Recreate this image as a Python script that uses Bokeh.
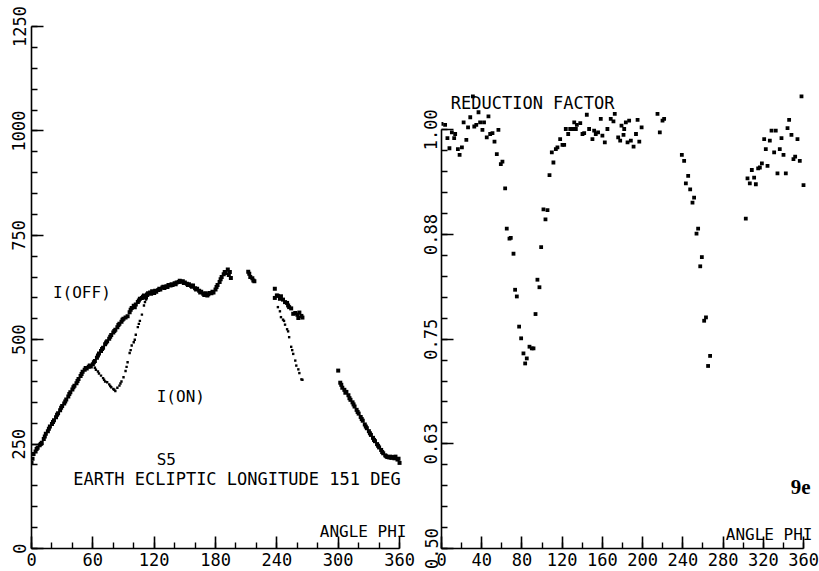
from bokeh.plotting import figure
from bokeh.layouts import row
from bokeh.models import FixedTicker, Label, PrintfTickFormatter, Range1d
from bokeh.embed import file_html
from bokeh.resources import INLINE

# ---------------- data ----------------
# Left panel: intensity I(OFF) vs angle phi
off_phi = [0, 1, 2, 4, 5, 6, 8, 9, 10, 12, 13, 14, 16, 17, 18, 20, 21, 22, 24, 25, 26, 28, 29, 30,
           32, 33, 34, 36, 37, 38, 40, 41, 42, 44, 45, 46, 48, 49, 50, 52, 53, 54, 56, 57, 58,
           60, 61, 62, 64, 65, 66, 68, 69, 70, 72, 73, 74, 76, 77, 78, 80, 81, 82, 84, 85, 86,
           88, 89, 90, 92, 94, 96, 97, 98, 100, 101, 102, 104, 105, 106, 108, 109, 110, 112, 113,
           114, 116, 117, 118, 120, 121, 122, 124, 125, 126, 128, 129, 130, 132, 133, 134, 136,
           137, 138, 140, 141, 142, 144, 145, 146, 148, 149, 150, 152, 153, 154, 156, 157, 158,
           160, 161, 162, 164, 165, 166, 168, 169, 170, 172, 173, 174, 176, 177, 178, 180, 181,
           182, 184, 185, 186, 188, 189, 190, 192, 193, 194, 195,
           212, 213, 214, 216, 217, 218,
           238, 238, 240, 241, 243, 244, 246, 248, 250, 251, 252, 254, 256, 258, 260, 261, 262,
           264, 265,
           300, 302, 303, 304, 306, 307, 308, 310, 311, 312, 314, 315, 316, 318, 319, 320, 322,
           323, 324, 326, 327, 328, 330, 331, 332, 334, 335, 336, 338, 339, 340, 342, 343, 344,
           346, 347, 348, 350, 351, 352, 354, 355, 356, 358, 359, 360]
off_val = [205, 215, 226, 232, 238, 241, 247, 250, 253, 262, 268, 275, 281, 287, 292, 298, 303, 307,
           314, 320, 324, 331, 337, 341, 347, 352, 357, 364, 370, 374, 381, 386, 390, 396, 401, 406,
           413, 418, 423, 428, 432, 431, 435, 438, 436, 441, 446, 449, 457, 462, 467, 473, 478, 481,
           489, 493, 496, 502, 507, 511, 517, 521, 524, 530, 535, 538, 543, 548, 550, 553, 556, 566,
           572, 576, 581, 578, 584, 590, 594, 598, 600, 603, 606, 601, 608, 611, 613, 610, 616, 612,
           617, 615, 619, 622, 620, 625, 627, 624, 628, 626, 631, 630, 633, 631, 635, 633, 637, 638,
           641, 639, 640, 636, 637, 634, 631, 633, 629, 627, 630, 623, 620, 622, 617, 613, 615, 610,
           607, 611, 606, 609, 612, 611, 615, 613, 620, 626, 631, 638, 645, 650, 657, 662, 660, 668,
           655, 662, 648,
           663, 658, 650, 647, 642, 640,
           622, 600, 606, 605, 598, 604, 596, 590, 588, 582, 578, 575, 562, 564, 560, 552, 565, 557,
           553,
           426, 397, 392, 385, 380, 373, 375, 367, 360, 356, 350, 345, 340, 332, 327, 323, 315, 310,
           306, 297, 292, 288, 281, 276, 272, 265, 260, 257, 250, 246, 242, 236, 231, 228, 223, 221,
           219, 218, 220, 217, 219, 216, 220, 213, 215, 205]

# Left panel: intensity I(ON) where it departs from I(OFF)
on_phi = [60, 62, 63, 65, 66, 68, 70, 71, 72, 74, 76, 77, 78, 80, 81, 82, 84, 86, 87, 88, 90, 92,
          93, 94, 96, 97, 98, 100, 101, 102, 104, 105, 106, 108, 110, 111, 112, 114,
          241, 243, 244, 246, 247, 248, 250, 251, 252, 254, 255, 256, 258, 259, 261, 262, 264, 265]
on_val = [440, 433, 428, 424, 419, 414, 408, 404, 400, 398, 393, 389, 386, 382, 380, 377, 385, 390,
          395, 400, 410, 425, 435, 446, 468, 475, 486, 494, 500, 512, 530, 538, 545, 560, 582, 590,
          596, 605,
          578, 568, 554, 548, 545, 536, 525, 520, 506, 483, 475, 466, 450, 438, 429, 420, 405, 404]

# Right panel: reduction factor vs angle phi
rf_phi = [0, 3.6, 5.9, 7.9, 10.3, 12.6, 13.6, 16.3, 18, 20.3, 22, 24.7, 26.4, 28.6, 31.2, 32.6,
          34.6, 36.8, 38.4, 40.7, 42.3, 45, 46.7, 48.4, 50.7, 52.7, 55, 56.6, 59, 60.6, 63.3,
          64.9, 67.6, 68.9, 71.6, 73.2, 74.9, 77.2, 79.2, 81.5, 83.2, 84.8, 87.5, 89.8, 91.5,
          93.5, 95.4, 97.4, 99.1, 101.4, 103.4, 105.4, 107.4, 109.7, 111.3, 113.7, 115.3, 118,
          120.3, 122, 123.6, 126, 128, 130.3, 132, 133.6, 134.6, 138, 140.2, 141.9, 144.5, 146.8,
          150.1, 151.8, 153.4, 155.7, 158.4, 160, 162.4, 165, 168.3, 171, 172.3, 175.7, 177.7,
          179, 181, 181.7, 183.3, 185, 186.6, 188.3, 191, 193.4, 195, 196.7, 199,
          214.8, 217.1, 219.8, 221.4,
          239, 241.3, 243, 245.3, 247.3, 249.6, 251.2, 253.6, 255.2, 257.3, 258.9, 261.2, 263,
          265.1, 267.1,
          302.6, 304.3, 306.6, 308.6, 310.9, 312.6, 314.9, 316.6, 318.6, 320.9, 322.5, 324.2,
          326.5, 328.2, 330.8, 332.4, 334.1, 336.4, 338.1, 340.1, 342.4, 344.1, 345.7, 348, 350,
          351.7, 354, 356.3, 358, 360]
rf_val = [1.007, 1.006, 0.990, 0.978, 0.997, 0.990, 0.995, 0.977, 0.970, 0.979, 1.009, 0.988,
          1.003, 1.015, 1.040, 1.004, 1.006, 1.021, 1.009, 1.000, 1.009, 0.991, 1.016, 0.995,
          0.996, 0.986, 0.971, 1.000, 0.959, 0.962, 0.930, 0.882, 0.870, 0.871, 0.852, 0.809,
          0.801, 0.765, 0.751, 0.733, 0.721, 0.727, 0.741, 0.739, 0.739, 0.780, 0.821, 0.812,
          0.860, 0.905, 0.893, 0.904, 0.946, 0.973, 0.961, 0.977, 0.979, 0.989,
          0.982, 0.982, 1.001, 0.995, 1.001, 1.001, 1.009, 1.001, 1.006, 1.008, 0.995, 0.996,
          1.018, 1.001, 0.989, 0.999, 0.995, 0.997, 1.013, 0.993, 0.985, 1.001, 1.013, 1.010,
          1.019, 0.991, 0.987, 1.005, 0.994, 1.001, 1.009, 0.985, 1.011, 0.987, 0.980, 0.995,
          1.012, 0.986, 1.003,
          1.019, 0.997, 1.011, 1.013,
          0.970, 0.963, 0.936, 0.945, 0.929, 0.913, 0.919, 0.876, 0.882, 0.837, 0.848, 0.772,
          0.776, 0.718, 0.730,
          0.894, 0.942, 0.936, 0.952, 0.943, 0.935, 0.954, 0.955, 0.960, 0.989, 0.977, 0.957,
          0.987, 0.999, 0.973, 0.999, 0.948, 0.977, 0.990, 0.970, 0.948, 1.002, 1.012, 0.994,
          0.965, 0.968, 0.989, 0.963, 1.040, 0.934]

# Tick values
left_x_major = [0, 60, 120, 180, 240, 300, 360]
left_x_minor = list(range(0, 361, 20))
left_y_major = [0, 250, 500, 750, 1000, 1250]
left_y_minor = list(range(0, 1251, 50))
right_x_major = [0, 40, 80, 120, 160, 200, 240, 280, 320, 360]
right_x_minor = list(range(0, 361, 20))
right_y_major = [0.5, 0.625, 0.75, 0.875, 1.0]
right_y_minor = [0.5 + 0.025 * i for i in range(21)]

MONO = "DejaVu Sans Mono"
HEIGHT = 570


def style_axis(ax, vertical=False, standoff=4):
    ax.axis_line_color = "black"
    ax.axis_line_width = 1.6
    ax.major_tick_line_color = "black"
    ax.minor_tick_line_color = "black"
    ax.major_tick_line_width = 1.6
    ax.minor_tick_line_width = 1.4
    ax.major_tick_in = 12
    ax.major_tick_out = 0
    ax.minor_tick_in = 6
    ax.minor_tick_out = 0
    ax.major_label_text_font = MONO
    ax.major_label_text_font_size = "17px"
    ax.major_label_text_color = "black"
    ax.major_label_standoff = standoff
    if vertical:
        ax.major_label_orientation = "vertical"


def base_fig(width, x_range, y_range, left, right):
    p = figure(width=width, height=HEIGHT, x_range=x_range, y_range=y_range,
               output_backend="svg", toolbar_location=None,
               min_border_left=left, min_border_right=right,
               min_border_top=26, min_border_bottom=22)
    p.grid.visible = False
    p.outline_line_color = None
    p.background_fill_color = "white"
    p.border_fill_color = "white"
    return p


def add_label(p, x, y, text, size="16px", font=MONO, weight="normal"):
    p.add_layout(Label(x=x, y=y, text=text, text_font=font, text_font_size=size,
                       text_font_style=weight, text_color="black",
                       text_align="left", text_baseline="middle"))


# ---------------- left panel ----------------
# frame runs a little past 360 so that the texts at the right are not cut; axes stop at 360
p1 = base_fig(415, Range1d(0, 375.6), Range1d(0, 1250), 31, 0)
p1.xaxis.ticker = FixedTicker(ticks=left_x_major, minor_ticks=left_x_minor)
p1.yaxis.ticker = FixedTicker(ticks=left_y_major, minor_ticks=left_y_minor)
p1.xaxis.bounds = (0, 360)
p1.yaxis.bounds = (0, 1250)
style_axis(p1.xaxis[0], standoff=4)
style_axis(p1.yaxis[0], vertical=True, standoff=6)

p1.scatter(off_phi, off_val, marker="square", size=4.0, color="black", line_width=0)
p1.scatter(on_phi, on_val, marker="square", size=2.4, color="black", line_width=0)

add_label(p1, 21, 614, "I(OFF)")
add_label(p1, 122.5, 364, "I(ON)")
add_label(p1, 122.5, 214, "S5")
add_label(p1, 40.9, 166, "EARTH ECLIPTIC LONGITUDE 151 DEG", size="17px")
add_label(p1, 282, 40, "ANGLE PHI")

# ---------------- right panel ----------------
p2 = base_fig(404, Range1d(0, 375.9), Range1d(0.5, 1.1234), 26, 0)
p2.xaxis.ticker = FixedTicker(ticks=right_x_major, minor_ticks=right_x_minor)
p2.yaxis.ticker = FixedTicker(ticks=right_y_major, minor_ticks=right_y_minor)
p2.yaxis.formatter = PrintfTickFormatter(format="%.2f")
p2.xaxis.bounds = (0, 360)
p2.yaxis.bounds = (0.5, 1.0)
style_axis(p2.xaxis[0], standoff=4)
style_axis(p2.yaxis[0], vertical=True, standoff=4)

p2.scatter(rf_phi, rf_val, marker="square", size=3.8, color="black", line_width=0)

add_label(p2, 9.2, 1.032, "REDUCTION FACTOR", size="17px")
add_label(p2, 282.7, 0.517, "ANGLE PHI")
add_label(p2, 347.4, 0.573, "9e", size="21px", font="Liberation Serif", weight="bold")

layout = row(p1, p2)
open("out.html", "w").write(file_html(layout, INLINE))
